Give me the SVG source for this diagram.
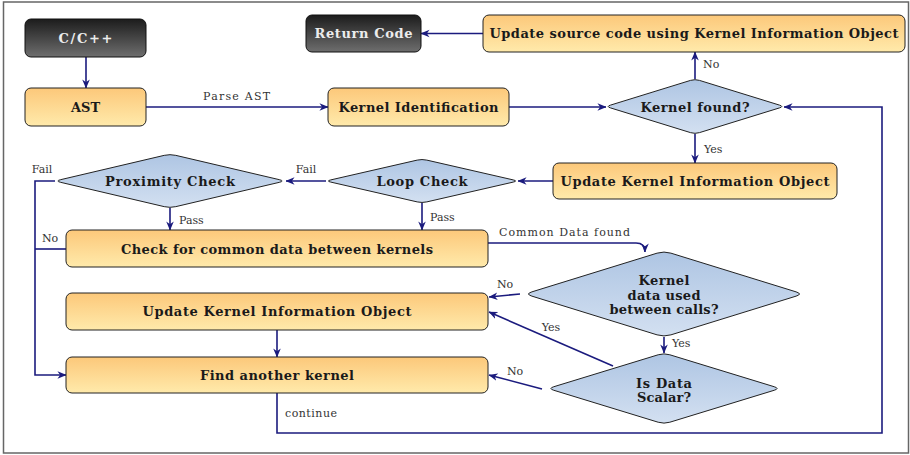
<svg xmlns="http://www.w3.org/2000/svg" width="910" height="455" viewBox="0 0 910 455">
<defs>
<linearGradient id="gOr" x1="0" y1="0" x2="0" y2="1"><stop offset="0" stop-color="#fcc87a"/><stop offset="1" stop-color="#ffeaab"/></linearGradient>
<linearGradient id="gBl" x1="0" y1="0" x2="0" y2="1"><stop offset="0" stop-color="#aec5e3"/><stop offset="1" stop-color="#d3e0f1"/></linearGradient>
<linearGradient id="gDk" x1="0" y1="0" x2="0" y2="1"><stop offset="0" stop-color="#1c1c1c"/><stop offset="1" stop-color="#6e6e6e"/></linearGradient>
<marker id="arr" viewBox="0 0 10 10" refX="9.5" refY="5" markerWidth="9" markerHeight="9" markerUnits="userSpaceOnUse" orient="auto">
<path d="M0,0.8 L10,5 L0,9.2 L3,5 Z" fill="#1b1b7e"/>
</marker>
<style>
.box{fill:url(#gOr);stroke:#222;stroke-width:1}
.dark{fill:url(#gDk);stroke:#111;stroke-width:1}
.dia{fill:url(#gBl);stroke:#222;stroke-width:1}
.t{font-family:"DejaVu Serif","Liberation Serif",serif;font-weight:bold;font-size:13px;fill:#1a1a1a;text-anchor:middle;dominant-baseline:central}
.tw{fill:#ececec}
.lb{font-family:"DejaVu Serif","Liberation Serif",serif;font-size:11px;fill:#333}
.c{fill:none;stroke:#1b1b7e;stroke-width:1.6}
.ca{fill:none;stroke:#1b1b7e;stroke-width:1.6;marker-end:url(#arr)}
</style>
</defs>
<rect x="3.5" y="2" width="905" height="451" fill="#fff" stroke="#666" stroke-width="1.5"/>

<g id="connectors">
<path class="ca" d="M86,57 V88"/>
<path class="ca" d="M146,107 H328"/>
<path class="ca" d="M509,107 H606"/>
<path class="ca" d="M695,79 V52"/>
<path class="ca" d="M483,33.5 H421"/>
<path class="ca" d="M695,134 V163"/>
<path class="ca" d="M553,181 H518"/>
<path class="ca" d="M326,181 H286"/>
<path class="ca" d="M55,181 H35 V375 H66"/>
<path class="c" d="M66,249 H35"/>
<path class="ca" d="M170,208 V230"/>
<path class="ca" d="M422,203 V230"/>
<path class="ca" d="M488,243 H636 Q645,243 645,252"/>
<path class="ca" d="M520,294 L489,297"/>
<path class="ca" d="M664,337 V353"/>
<path class="ca" d="M613,366 L489,312"/>
<path class="ca" d="M542,389 L489,375"/>
<path class="ca" d="M277,330 V357"/>
<path class="ca" d="M277,393 V433 H882 V107 H784"/>
<text class="lb" x="236.5" y="100" text-anchor="middle" textLength="67">Parse AST</text>
<text class="lb" x="703" y="68">No</text>
<text class="lb" x="704" y="153">Yes</text>
<text class="lb" x="306" y="173" text-anchor="middle">Fail</text>
<text class="lb" x="42" y="173" text-anchor="middle">Fail</text>
<text class="lb" x="50" y="242" text-anchor="middle">No</text>
<text class="lb" x="179" y="224">Pass</text>
<text class="lb" x="430" y="221">Pass</text>
<text class="lb" x="499" y="236" textLength="131">Common Data found</text>
<text class="lb" x="505" y="288" text-anchor="middle">No</text>
<text class="lb" x="672" y="347">Yes</text>
<text class="lb" x="551" y="331" text-anchor="middle">Yes</text>
<text class="lb" x="515" y="375" text-anchor="middle">No</text>
<text class="lb" x="285" y="417" textLength="52">continue</text>
</g>

<g id="n-cpp"><rect class="dark" x="25" y="19" width="121" height="38" rx="6"/><text class="t tw" x="85.5" y="38" textLength="54">C/C++</text></g>
<g id="n-ast"><rect class="box" x="25" y="88" width="121" height="38" rx="6"/><text class="t" x="85.5" y="107">AST</text></g>
<g id="n-kid"><rect class="box" x="328" y="88" width="181" height="38" rx="6"/><text class="t" x="418.5" y="107" textLength="160">Kernel Identification</text></g>
<g id="n-ret"><rect class="dark" x="306" y="15" width="115" height="37" rx="6"/><text class="t tw" x="363.5" y="33.5" textLength="98">Return Code</text></g>
<g id="n-upsrc"><rect class="box" x="483" y="15" width="422" height="37" rx="6"/><text class="t" x="694" y="33.5" textLength="409">Update source code using Kernel Information Object</text></g>
<g id="n-found"><path class="dia" d="M610.45,105.125 L690.55,80.375 Q695,79 699.45,80.375 L779.55,105.125 Q784,106.5 779.55,107.875 L699.45,132.625 Q695,134 690.55,132.625 L610.45,107.875 Q606,106.5 610.45,105.125 Z"/><text class="t" x="695" y="107" textLength="109">Kernel found?</text></g>
<g id="n-ukio1"><rect class="box" x="553" y="163" width="284" height="36" rx="6"/><text class="t" x="695" y="181" textLength="269">Update Kernel Information Object</text></g>
<g id="n-loop"><path class="dia" d="M330.8,179.9 L417.2,160.1 Q422,159 426.8,160.1 L513.2,179.9 Q518,181 513.2,182.1 L426.8,201.9 Q422,203 417.2,201.9 L330.8,182.1 Q326,181 330.8,179.9 Z"/><text class="t" x="422" y="181" textLength="91">Loop Check</text></g>
<g id="n-prox"><path class="dia" d="M60.75,179.65 L164.25,155.35 Q170,154 175.75,155.35 L279.25,179.65 Q285,181 279.25,182.35 L175.75,206.65 Q170,208 164.25,206.65 L60.75,182.35 Q55,181 60.75,179.65 Z"/><text class="t" x="170" y="181" textLength="130">Proximity Check</text></g>
<g id="n-common"><rect class="box" x="66" y="230" width="422" height="37" rx="6"/><text class="t" x="277" y="249" textLength="312">Check for common data between kernels</text></g>
<g id="n-kdata"><path class="dia" d="M531.95,291.85 L657.05,253.15 Q664,251 670.95,253.15 L796.05,291.85 Q803,294 796.05,296.15 L670.95,334.85 Q664,337 657.05,334.85 L531.95,296.15 Q525,294 531.95,291.85 Z"/><text class="t" x="664" y="280" textLength="51">Kernel</text><text class="t" x="664" y="295" textLength="73">data used</text><text class="t" x="664" y="309" textLength="109">between calls?</text></g>
<g id="n-ukio2"><rect class="box" x="66" y="293" width="422" height="37" rx="6"/><text class="t" x="277" y="311.5" textLength="269">Update Kernel Information Object</text></g>
<g id="n-find"><rect class="box" x="66" y="357" width="422" height="36" rx="6"/><text class="t" x="277" y="375" textLength="154">Find another kernel</text></g>
<g id="n-scalar"><path class="dia" d="M553.8,386.725 L658.2,354.775 Q664,353 669.8,354.775 L774.2,386.725 Q780,388.5 774.2,390.275 L669.8,422.225 Q664,424 658.2,422.225 L553.8,390.275 Q548,388.5 553.8,386.725 Z"/><text class="t" x="664" y="383" textLength="56">Is Data</text><text class="t" x="664" y="397" textLength="54">Scalar?</text></g>
</svg>
